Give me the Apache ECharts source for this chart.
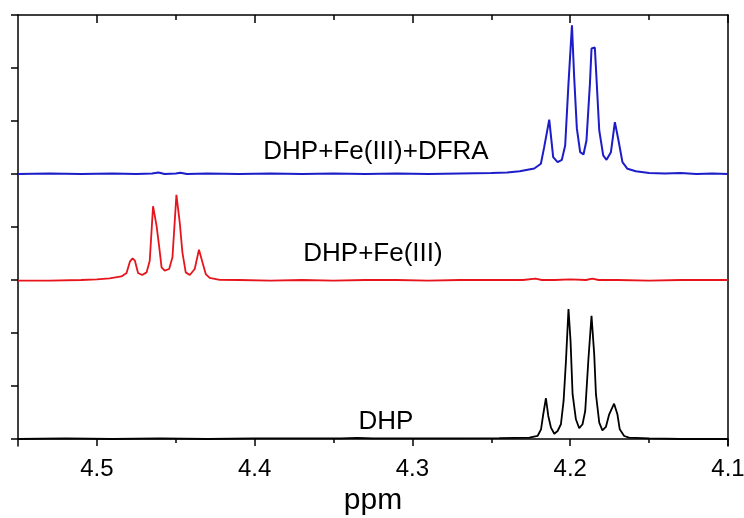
<!DOCTYPE html>
<html>
<head>
<meta charset="utf-8">
<script src="https://cdn.jsdelivr.net/npm/echarts@6/dist/echarts.min.js"></script>
<style>html,body{margin:0;padding:0;background:#fff}#c{width:744px;height:518px}</style>
</head>
<body>
<div id="c"></div>
<script>
// ---- data (chemical shift in ppm, intensity in stacked units) ----
const blueX = [4.55, 4.53, 4.51, 4.49, 4.475, 4.465, 4.461, 4.457, 4.45, 4.447, 4.443, 4.43, 4.41, 4.39, 4.37, 4.35, 4.33, 4.31, 4.29, 4.27, 4.25, 4.24, 4.232, 4.2228, 4.2186, 4.2165, 4.2133, 4.2108, 4.2080, 4.2053, 4.2032, 4.2011, 4.1989, 4.1975, 4.1958, 4.1937, 4.1916, 4.1897, 4.1875, 4.1865, 4.1844, 4.1834, 4.1816, 4.1791, 4.1770, 4.1742, 4.1717, 4.1694, 4.1669, 4.1637, 4.1584, 4.15, 4.14, 4.13, 4.12, 4.11, 4.10];
const blueY = [5.00, 5.01, 5.00, 5.01, 5.00, 5.01, 5.03, 5.00, 5.01, 5.025, 5.00, 5.01, 5.00, 5.01, 5.00, 5.01, 5.00, 5.01, 5.00, 5.01, 5.02, 5.03, 5.05, 5.104, 5.193, 5.507, 6.025, 5.318, 5.223, 5.268, 5.539, 6.711, 7.807, 6.830, 5.860, 5.412, 5.369, 5.633, 6.711, 7.367, 7.386, 6.830, 5.822, 5.350, 5.268, 5.412, 5.979, 5.633, 5.223, 5.098, 5.053, 5.02, 5.01, 5.02, 5.00, 5.01, 5.00];

const redX = [4.55, 4.53, 4.51, 4.50, 4.492, 4.4844, 4.4812, 4.4791, 4.4774, 4.4759, 4.4739, 4.4713, 4.4685, 4.4665, 4.4644, 4.4622, 4.4606, 4.4590, 4.4570, 4.4542, 4.4521, 4.4496, 4.4475, 4.4458, 4.4437, 4.4411, 4.4380, 4.4353, 4.4331, 4.4310, 4.4285, 4.4222, 4.41, 4.39, 4.37, 4.35, 4.33, 4.31, 4.29, 4.27, 4.25, 4.23, 4.222, 4.218, 4.21, 4.20, 4.19, 4.186, 4.182, 4.17, 4.15, 4.13, 4.11, 4.10];
const redY = [2.99, 2.99, 3.00, 3.01, 3.03, 3.068, 3.132, 3.346, 3.408, 3.365, 3.132, 3.094, 3.144, 3.365, 4.391, 4.026, 3.648, 3.238, 3.176, 3.208, 3.427, 4.607, 4.089, 3.522, 3.144, 3.094, 3.208, 3.573, 3.333, 3.113, 3.038, 3.004, 3.00, 2.99, 3.00, 2.99, 3.00, 3.00, 2.99, 3.00, 3.00, 3.00, 3.025, 3.00, 3.00, 3.01, 3.00, 3.025, 3.00, 3.00, 2.99, 3.00, 3.00, 3.00];

const blackX = [4.55, 4.52, 4.49, 4.46, 4.43, 4.40, 4.37, 4.345, 4.335, 4.325, 4.30, 4.27, 4.245, 4.2259, 4.2207, 4.2185, 4.2171, 4.2154, 4.2139, 4.2122, 4.2101, 4.2080, 4.2059, 4.2042, 4.2027, 4.2011, 4.1998, 4.1985, 4.1964, 4.1943, 4.1922, 4.1905, 4.1884, 4.1865, 4.1848, 4.1837, 4.1816, 4.1796, 4.1774, 4.1753, 4.1722, 4.1701, 4.1686, 4.1658, 4.1627, 4.15, 4.13, 4.11, 4.10];
const blackY = [0.00, 0.01, 0.00, 0.01, 0.00, 0.01, 0.01, 0.012, 0.022, 0.012, 0.01, 0.01, 0.015, 0.025, 0.057, 0.183, 0.467, 0.769, 0.435, 0.214, 0.100, 0.151, 0.278, 0.718, 1.474, 2.452, 1.853, 0.845, 0.372, 0.202, 0.278, 0.529, 1.537, 2.325, 1.601, 0.845, 0.308, 0.164, 0.227, 0.467, 0.667, 0.467, 0.183, 0.057, 0.025, 0.01, 0.00, 0.00, 0.00];

const majorTicks = [4.1, 4.2, 4.3, 4.4, 4.5];
const minorTicks = [4.15, 4.25, 4.35, 4.45];
const yTicks = [0, 1, 2, 3, 4, 5, 6, 7, 8];
const seriesNames = ['DHP+Fe(III)+DFRA', 'DHP+Fe(III)', 'DHP'];

const zip = (xs, ys) => xs.map((x, i) => [x, ys[i]]);
const FONT = '"Liberation Sans", Arial, sans-serif';
const lineCol = '#000';

const baseX = {
  type: 'value', min: 4.1, max: 4.55, inverse: true,
  splitLine: { show: false }
};

const chart = echarts.init(document.getElementById('c'));
chart.setOption({
  animation: false,
  backgroundColor: '#fff',
  grid: { left: 18, right: 16, top: 15, bottom: 72, containLabel: false, outerBoundsMode: 'none' },
  xAxis: [
    Object.assign({}, baseX, {
      position: 'bottom',
      axisLine: { show: true, lineStyle: { color: lineCol, width: 1.5 } },
      axisTick: { show: true, customValues: majorTicks, length: 7, lineStyle: { color: lineCol, width: 1.5 } },
      axisLabel: { show: true, customValues: majorTicks, color: '#000', fontSize: 24, fontFamily: FONT, margin: 11,
                   formatter: v => v.toFixed(1) },
      name: 'ppm', nameLocation: 'middle', nameGap: 40,
      nameTextStyle: { color: '#000', fontSize: 30, fontFamily: FONT }
    }),
    Object.assign({}, baseX, {
      position: 'bottom',
      axisLine: { show: false },
      axisTick: { show: true, customValues: minorTicks, length: 4, lineStyle: { color: lineCol, width: 1.5 } },
      axisLabel: { show: false }
    }),
    Object.assign({}, baseX, {
      position: 'top',
      axisLine: { show: true, lineStyle: { color: lineCol, width: 1.5 } },
      axisTick: { show: true, inside: true, customValues: majorTicks, length: 8, lineStyle: { color: lineCol, width: 1.5 } },
      axisLabel: { show: false }
    }),
    Object.assign({}, baseX, {
      position: 'top',
      axisLine: { show: false },
      axisTick: { show: true, inside: true, customValues: minorTicks, length: 5, lineStyle: { color: lineCol, width: 1.5 } },
      axisLabel: { show: false }
    })
  ],
  yAxis: [
    {
      type: 'value', min: -0.132, max: 8, position: 'left',
      splitLine: { show: false },
      axisLine: { show: true, lineStyle: { color: lineCol, width: 1.5 } },
      axisTick: { show: true, customValues: yTicks, length: 7, lineStyle: { color: lineCol, width: 1.5 } },
      axisLabel: { show: false }
    },
    {
      type: 'value', min: -0.132, max: 8, position: 'right',
      splitLine: { show: false },
      axisLine: { show: true, lineStyle: { color: lineCol, width: 1.5 } },
      axisTick: { show: false },
      axisLabel: { show: false }
    }
  ],
  series: [
    { name: seriesNames[0], type: 'line', data: zip(blueX, blueY), showSymbol: false, symbol: 'none',
      lineStyle: { color: '#1c1cc8', width: 2 }, xAxisIndex: 0, yAxisIndex: 0 },
    { name: seriesNames[1], type: 'line', data: zip(redX, redY), showSymbol: false, symbol: 'none',
      lineStyle: { color: '#e8141c', width: 1.8 }, xAxisIndex: 0, yAxisIndex: 0 },
    { name: seriesNames[2], type: 'line', data: zip(blackX, blackY), showSymbol: false, symbol: 'none',
      lineStyle: { color: '#000', width: 1.8 }, xAxisIndex: 0, yAxisIndex: 0 }
  ],
  graphic: [
    { type: 'text', x: 376, y: 152, style: { text: seriesNames[0], font: '26px ' + FONT, fill: '#000', align: 'center', verticalAlign: 'middle' } },
    { type: 'text', x: 373, y: 254, style: { text: seriesNames[1], font: '26px ' + FONT, fill: '#000', align: 'center', verticalAlign: 'middle' } },
    { type: 'text', x: 386, y: 422, style: { text: seriesNames[2], font: '26px ' + FONT, fill: '#000', align: 'center', verticalAlign: 'middle' } }
  ]
});
</script>
</body>
</html>
